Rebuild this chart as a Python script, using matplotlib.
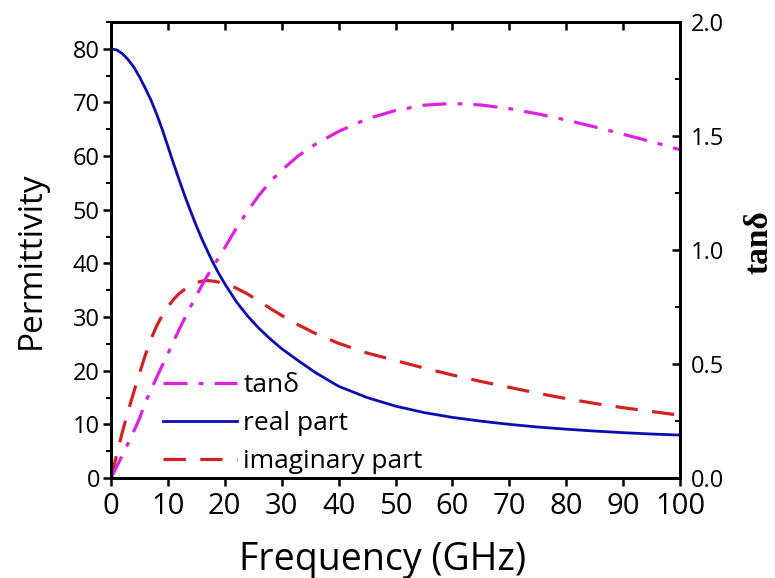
import matplotlib
matplotlib.use("Agg")
import matplotlib.pyplot as plt
from matplotlib.ticker import MultipleLocator

freq = [0, 1, 2, 3, 4, 5, 6, 7, 8, 9, 10, 11, 12, 13, 14, 15, 16, 17, 18, 19, 20,
        22, 24, 26, 28, 30, 33, 36, 40, 45, 50, 55, 60, 65, 70, 75, 80, 85, 90, 95, 100]
real_part = [80.0, 79.8, 79.1, 78.0, 76.6, 74.8, 72.7, 70.5, 67.9, 65.0, 61.8, 58.6, 55.5,
             52.5, 49.7, 47.0, 44.5, 42.2, 40.0, 38.0, 36.2,
             32.9, 30.2, 27.9, 25.9, 24.1, 21.8, 19.6, 17.1, 15.0, 13.4, 12.2, 11.3, 10.6,
             10.0, 9.5, 9.1, 8.75, 8.45, 8.2, 8.0]
imag_part = [0.0, 4.3, 8.6, 12.4, 16.0, 19.5, 22.8, 25.8, 28.3, 30.3, 31.9, 33.3, 34.4,
             35.2, 35.9, 36.4, 36.7, 36.8, 36.7, 36.5, 36.2,
             35.4, 34.3, 33.0, 31.6, 30.3, 28.5, 26.9, 25.1, 23.3, 21.9, 20.5, 19.2, 18.0,
             16.9, 15.8, 14.8, 13.9, 13.1, 12.4, 11.7]
tan_delta = [0.0, 0.05, 0.10, 0.152, 0.205, 0.26, 0.33, 0.385, 0.44, 0.493, 0.545, 0.60,
             0.652, 0.703, 0.752, 0.80, 0.846, 0.89, 0.93, 0.97, 1.01,
             1.095, 1.17, 1.24, 1.30, 1.35, 1.415, 1.465, 1.52, 1.575, 1.612, 1.635, 1.643,
             1.636, 1.62, 1.597, 1.57, 1.54, 1.508, 1.475, 1.44]

labels = ["tanδ", "real part", "imaginary part"]

plt.rcParams['font.family'] = ['Open Sans', 'DejaVu Sans']
plt.rcParams['font.weight'] = 'medium'

fig = plt.figure(figsize=(7.75, 5.78), dpi=100)
ax = fig.add_axes([111/775, 1-478/578, (680-111)/775, (478-22)/578])
ax2 = ax.twinx()
ax3 = ax.twiny()

c_real = '#0c0cb4'
c_imag = '#d42222'
c_tan = '#e020e0'

l_real, = ax.plot(freq, real_part, color=c_real, lw=2.0)
l_imag, = ax.plot(freq, imag_part, color=c_imag, lw=2.3, dashes=(7, 4.5))
l_tan, = ax2.plot(freq, tan_delta, color=c_tan, lw=2.3, dashes=(7.5, 3.5, 1.5, 3.5))

ax.set_xlim(0, 100)
ax3.set_xlim(0, 100)
ax.set_ylim(0, 85)
ax2.set_ylim(0, 2.0)

for a in (ax, ax2, ax3):
    for s in a.spines.values():
        s.set_linewidth(2.0)

ax.xaxis.set_major_locator(MultipleLocator(10))
ax3.xaxis.set_major_locator(MultipleLocator(10))
ax.yaxis.set_major_locator(MultipleLocator(10))
ax.yaxis.set_minor_locator(MultipleLocator(5))
ax2.yaxis.set_major_locator(MultipleLocator(0.5))
ax2.yaxis.set_minor_locator(MultipleLocator(0.25))

ax.tick_params(axis='x', which='major', direction='out', length=6, width=1.8,
               labelsize=21, pad=4)
ax3.tick_params(axis='x', which='major', direction='in', length=6, width=1.8,
                labeltop=False, top=True)
ax.tick_params(axis='y', which='major', direction='out', length=6, width=1.8,
               labelsize=17, pad=2)
ax.tick_params(axis='y', which='minor', direction='out', length=3.5, width=1.5)
ax2.tick_params(axis='y', which='major', direction='in', length=6, width=1.8,
                labelsize=17, pad=8)
ax2.tick_params(axis='y', which='minor', direction='in', length=3.5, width=1.5)

ax.set_yticks([0, 10, 20, 30, 40, 50, 60, 70, 80])
ax.set_yticklabels(['0', '10', '20', '30', '40', '50', '60', '70', '80'])
ax2.set_yticks([0, 0.5, 1.0, 1.5, 2.0])
ax2.set_yticklabels(['0.0', '0.5', '1.0', '1.5', '2.0'])

fig.text(383/775, 1-570/578, "Frequency (GHz)", fontsize=27, ha='center', va='baseline')
fig.text(31/775, 1-260/578, "Permittivity", fontsize=24, ha='center', va='center',
         rotation=90)
fig.text(759/775, 1-242/578, "tanδ", fontsize=24, ha='center', va='center', rotation=90,
         family=['Liberation Serif', 'DejaVu Serif'], fontweight='bold')

leg = ax2.legend([l_tan, l_real, l_imag], labels, loc='upper left',
                 bbox_to_anchor=(163/775, 1-373/578), bbox_transform=fig.transFigure,
                 frameon=False, fontsize=19, handlelength=2.8, handletextpad=0.25,
                 labelspacing=0.5, borderaxespad=0, borderpad=0)

fig.savefig("out.png", dpi=100)
